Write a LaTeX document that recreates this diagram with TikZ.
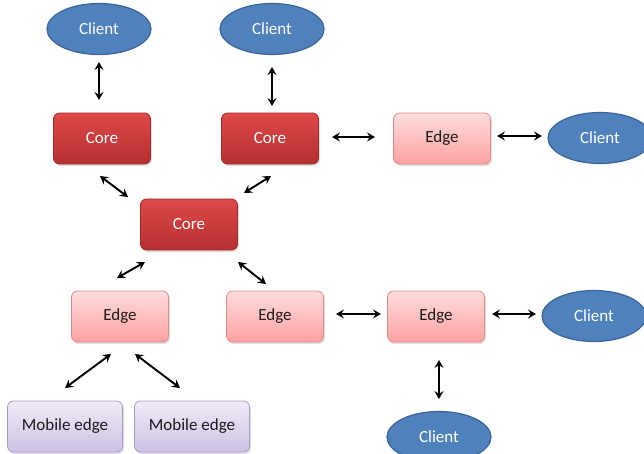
\documentclass[tikz,border=0pt]{standalone}
\usepackage{fontspec}
\setmainfont{Carlito}
\usetikzlibrary{arrows.meta,shapes.geometric,shadows}
\definecolor{clientfill}{HTML}{4F81BD}
\definecolor{clientborder}{HTML}{3A6496}
\definecolor{coretop}{HTML}{DE4848}
\definecolor{corebot}{HTML}{B53030}
\definecolor{coreborder}{HTML}{A02A2A}
\definecolor{edgetop}{HTML}{FFDCDC}
\definecolor{edgebot}{HTML}{FFA2A2}
\definecolor{edgeborder}{HTML}{E08A8A}
\definecolor{mobtop}{HTML}{F0EAF8}
\definecolor{mobbot}{HTML}{CEC2E4}
\definecolor{mobborder}{HTML}{A898CC}
\definecolor{txt}{HTML}{1A1A1A}
\begin{document}
\begin{tikzpicture}[x=1pt,y=-1pt,
  every node/.style={font=\fontsize{17}{20}\selectfont},
  shadowed/.style={drop shadow={opacity=0.25,shadow xshift=1.5pt,shadow yshift=-2pt}},
  client/.style={ellipse,draw=clientborder,line width=1.2pt,fill=clientfill,text=white,
    minimum width=104pt,minimum height=51pt,inner sep=0pt},
  corebox/.style={rectangle,rounded corners=6pt,draw=coreborder,line width=0.8pt,
    top color=coretop,bottom color=corebot,text=white,
    minimum width=97pt,minimum height=51pt,inner sep=0pt,shadowed},
  edgebox/.style={rectangle,rounded corners=6pt,draw=edgeborder,line width=0.8pt,
    top color=edgetop,bottom color=edgebot,text=txt,
    minimum width=97pt,minimum height=51pt,inner sep=0pt,shadowed},
  mobbox/.style={rectangle,rounded corners=6pt,draw=mobborder,line width=0.8pt,
    top color=mobtop,bottom color=mobbot,text=txt,
    minimum width=115pt,minimum height=51pt,inner sep=0pt,shadowed},
  link/.style={line width=1.9pt,
    {Stealth[length=8pt,width=9pt,inset=3pt]}-{Stealth[length=8pt,width=9pt,inset=3pt]}}
]
\useasboundingbox (0,0) rectangle (644,453);
\clip (0,0) rectangle (644,453);

% nodes
\node[client] (cl1) at (99,29) {Client};
\node[client] (cl2) at (272,29) {Client};
\node[corebox] (co1) at (102,138.5) {Core};
\node[corebox] (co2) at (270,138.5) {Core};
\node[edgebox] (ed1) at (442,138.5) {Edge};
\node[client] (cl3) at (600,138) {Client};
\node[corebox] (co3) at (189,224.5) {Core};
\node[edgebox] (ed2) at (120,316.5) {Edge};
\node[edgebox] (ed3) at (275,316.5) {Edge};
\node[edgebox] (ed4) at (436,316.5) {Edge};
\node[client] (cl4) at (594,316) {Client};
\node[client] (cl5) at (439,437) {Client};
\node[mobbox] (mo1) at (65,426.5) {Mobile edge};
\node[mobbox] (mo2) at (192,426.5) {Mobile edge};

% connector end points
\coordinate (a1) at (99,62);   \coordinate (b1) at (99,100);
\coordinate (a2) at (272,67);  \coordinate (b2) at (272,106);
\coordinate (a3) at (100,176); \coordinate (b3) at (128,197);
\coordinate (a4) at (271,176); \coordinate (b4) at (244,193);
\coordinate (a5) at (332,137); \coordinate (b5) at (375,137);
\coordinate (a6) at (497,136); \coordinate (b6) at (542,136);
\coordinate (a7) at (145,262); \coordinate (b7) at (117,278);
\coordinate (a8) at (238,262); \coordinate (b8) at (266,284);
\coordinate (a9) at (336,314); \coordinate (b9) at (381,314);
\coordinate (a10) at (492,314); \coordinate (b10) at (536,314);
\coordinate (a11) at (439,360); \coordinate (b11) at (439,399);
\coordinate (a12) at (111,354); \coordinate (b12) at (65,388);
\coordinate (a13) at (135,354); \coordinate (b13) at (180,388);

\draw[link] (a1) -- (b1);
\draw[link] (a2) -- (b2);
\draw[link] (a3) -- (b3);
\draw[link] (a4) -- (b4);
\draw[link] (a5) -- (b5);
\draw[link] (a6) -- (b6);
\draw[link] (a7) -- (b7);
\draw[link] (a8) -- (b8);
\draw[link] (a9) -- (b9);
\draw[link] (a10) -- (b10);
\draw[link] (a11) -- (b11);
\draw[link] (a12) -- (b12);
\draw[link] (a13) -- (b13);
\end{tikzpicture}
\end{document}
